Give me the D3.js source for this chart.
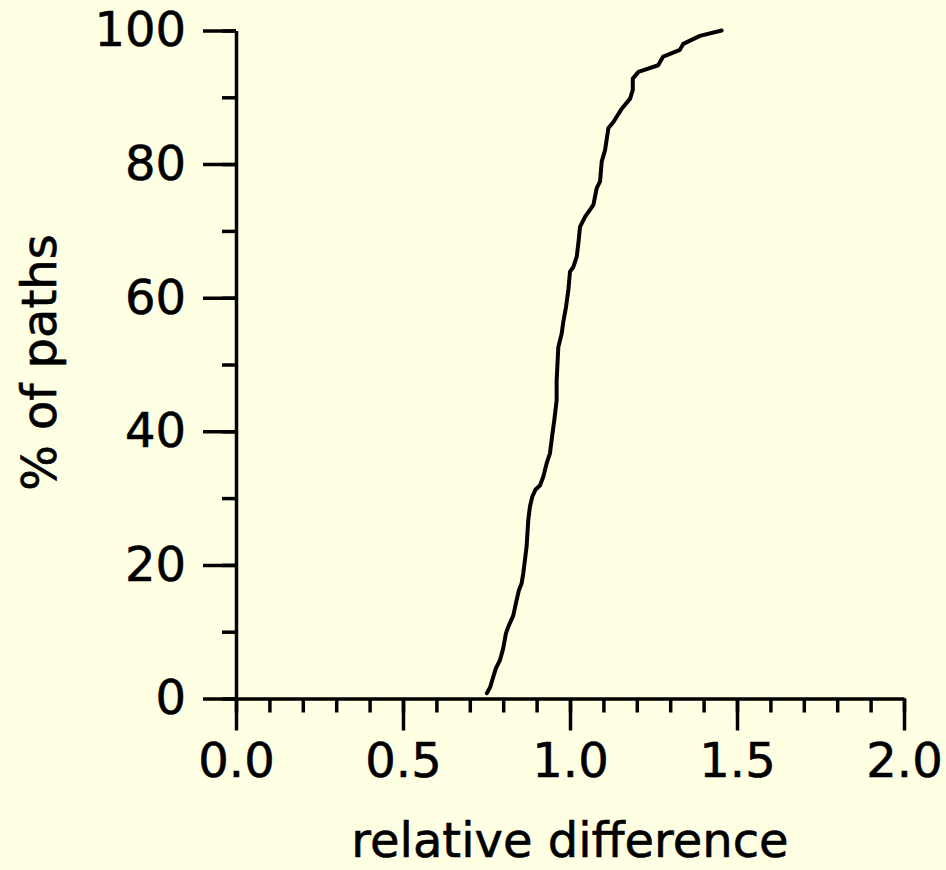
<!DOCTYPE html>
<html>
<head>
<meta charset="utf-8">
<script src="https://cdn.jsdelivr.net/npm/d3@7"></script>
<style>
  html, body { margin: 0; padding: 0; background: #ffffe4; }
  svg { display: block; font-family: "DejaVu Sans", Verdana, sans-serif; }
  .axis path, .axis line { stroke: #000; stroke-width: 3.5px; }
  .axis text { font-size: 48px; fill: #000; }
  text { stroke: #000; stroke-width: 0.6px; }
</style>
</head>
<body>
<script>
// Cumulative distribution
const relDiff = [0.751, 0.761, 0.770, 0.778, 0.790, 0.800, 0.808, 0.815, 0.830, 0.840,
  0.847, 0.855, 0.860, 0.865, 0.870, 0.875, 0.880, 0.887, 0.897, 0.910,
  0.920, 0.930, 0.940, 0.945, 0.953, 0.960, 0.960, 0.965, 0.975, 0.980,
  0.988, 0.995, 1.000, 1.010, 1.020, 1.025, 1.030, 1.045, 1.070, 1.080,
  1.090, 1.095, 1.105, 1.115, 1.130, 1.155, 1.180, 1.188, 1.188, 1.205,
  1.264, 1.279, 1.329, 1.339, 1.389, 1.454];
const pctPaths = [0.8, 1.7, 3.2, 4.5, 5.7, 7.5, 9.7, 10.7, 12.4, 14.7,
  16.2, 17.2, 18.7, 20.7, 22.7, 26.7, 28.7, 30.2, 31.3, 31.9,
  33.2, 35.2, 36.7, 38.7, 41.7, 44.6, 47.6, 52.6, 54.6, 56.4,
  58.6, 61.1, 63.9, 64.6, 66.1, 68.1, 70.6, 72.1, 73.9, 76.4,
  77.4, 80.4, 82.1, 85.4, 86.3, 88.3, 89.8, 91.1, 92.8, 93.8,
  94.8, 96.1, 97.1, 98.0, 99.2, 100];

const xMajorTicks = [0, 0.5, 1.0, 1.5, 2.0];
const xMinorTicks = d3.range(0, 2.01, 0.1);
const yMajorTicks = [0, 20, 40, 60, 80, 100];
const yMinorTicks = d3.range(0, 101, 10);

const svgWidth = 946;
const svgHeight = 870;
const margin = { top: 30.5, right: 42, bottom: 171.5, left: 236 };
const chartWidth = svgWidth - margin.left - margin.right;
const chartHeight = svgHeight - margin.top - margin.bottom;

const svg = d3.select("body").append("svg")
  .attr("width", svgWidth)
  .attr("height", svgHeight);

const chartGroup = svg.append("g")
  .attr("transform", `translate(${margin.left}, ${margin.top})`);

const xScale = d3.scaleLinear().domain([0, 2]).range([0, chartWidth]);
const yScale = d3.scaleLinear().domain([0, 100]).range([chartHeight, 0]);

// minor ticks first, no labels
chartGroup.append("g")
  .classed("axis", true)
  .attr("transform", `translate(0, ${chartHeight})`)
  .call(d3.axisBottom(xScale).tickValues(xMinorTicks).tickSize(14).tickFormat(""))
  .call(g => g.select(".domain").remove());

chartGroup.append("g")
  .classed("axis", true)
  .call(d3.axisLeft(yScale).tickValues(yMinorTicks).tickSize(14).tickFormat(""))
  .call(g => g.select(".domain").remove());

// major ticks with labels
chartGroup.append("g")
  .classed("axis", true)
  .attr("transform", `translate(0, ${chartHeight})`)
  .call(d3.axisBottom(xScale).tickValues(xMajorTicks).tickSizeInner(32).tickSizeOuter(0)
    .tickPadding(12).tickFormat(d3.format(".1f")));

chartGroup.append("g")
  .classed("axis", true)
  .call(d3.axisLeft(yScale).tickValues(yMajorTicks).tickSizeInner(33).tickSizeOuter(0)
    .tickPadding(17).tickFormat(d3.format("d")));

svg.selectAll(".axis").attr("font-family", null).attr("font-size", null);

// the curve
const line = d3.line()
  .x((d, i) => xScale(relDiff[i]))
  .y(d => yScale(d));

chartGroup.append("path")
  .attr("d", line(pctPaths))
  .attr("fill", "none")
  .attr("stroke", "#000")
  .attr("stroke-width", 4)
  .attr("stroke-linejoin", "round")
  .attr("stroke-linecap", "round");

// axis titles
svg.append("text")
  .attr("x", margin.left + xScale(1.0))
  .attr("y", 857)
  .attr("text-anchor", "middle")
  .attr("font-size", 48)
  .text("relative difference");

svg.append("text")
  .attr("transform", `translate(56, ${margin.top + yScale(50) - 2}) rotate(-90)`)
  .attr("text-anchor", "middle")
  .attr("font-size", 48)
  .text("% of paths");
</script>
</body>
</html>
